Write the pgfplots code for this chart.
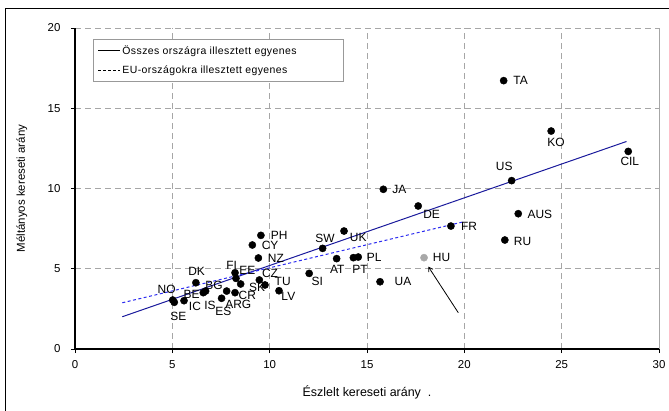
\documentclass[border=0pt]{standalone}
\usepackage{fontspec}
\setmainfont{Liberation Sans}
\newfontfamily\legfont[LetterSpace=4]{Liberation Sans}
\usepackage{pgfplots}
\usepackage{pgfplotstable}
\pgfplotsset{compat=1.18}
\usetikzlibrary{arrows.meta}

\definecolor{linenavy}{HTML}{1A1A9C}
\definecolor{lineblue}{HTML}{2B2BF0}
\definecolor{hugray}{HTML}{A8A8A8}

% countries (observed ratio, fair ratio)
\pgfplotstableread{
x y
5.02 3.05
5.10 2.91
5.60 3.01
6.21 4.13
6.59 3.51
6.71 3.61
7.53 3.16
7.79 3.61
8.22 3.51
8.22 4.75
8.27 4.40
8.51 4.05
9.11 6.48
9.55 7.08
9.42 5.67
9.47 4.30
9.76 3.99
10.48 3.63
12.03 4.71
12.72 6.27
13.82 7.35
13.44 5.63
14.30 5.69
14.55 5.73
15.67 4.19
15.84 9.95
17.63 8.91
19.31 7.66
22.02 16.72
22.43 10.49
22.77 8.43
22.08 6.79
24.46 13.58
28.42 12.31
}\pts

% label positions
\pgfplotstableread{
lx ly lab
4.71 3.74 NO
5.31 2.01 SE
6.25 4.82 DK
5.99 3.43 BE
7.14 3.99 BG
6.16 2.68 IC
6.93 2.74 IS
7.62 2.32 ES
8.39 2.78 ARG
8.85 3.31 CR
8.05 5.19 FI
8.85 4.92 EE
9.36 3.84 SK
10.02 4.71 CZ
10.67 4.19 TU
10.96 3.30 LV
10.32 5.67 NZ
10.02 6.44 CY
10.49 7.08 PH
12.45 4.19 SI
12.84 6.90 SW
14.55 6.94 UK
13.47 4.98 AT
14.64 4.98 PT
15.37 5.71 PL
16.85 4.19 UA
16.66 9.91 JA
18.32 8.41 DE
20.24 7.62 FR
18.83 5.69 HU
22.89 16.72 TA
22.05 11.36 US
23.88 8.41 AUS
22.99 6.69 RU
24.71 12.88 KO
28.50 11.67 CIL
}\labs

\begin{document}
\begin{tikzpicture}
\useasboundingbox (0,0) rectangle (669bp,411bp);
\draw[black, line width=1bp] (5bp,-5bp) -- (5bp,402bp) -- (675bp,402bp);
\begin{axis}[
  at={(75bp,62bp)}, anchor=south west,
  scale only axis,
  width=584bp, height=321bp,
  xmin=0, xmax=30, ymin=0, ymax=20,
  xtick={0,5,...,30}, ytick={0,5,...,20},
  axis x line*=bottom, axis y line*=left,
  axis line style={black, line width=1.1bp},
  tick align=outside, major tick length=4bp,
  tick style={black, line width=0.8bp},
  grid=major,
  grid style={gray!70, line width=0.8bp, dash pattern=on 6bp off 4bp},
  ticklabel style={font=\fontsize{11.5}{12}\selectfont},
  /pgf/number format/assume math mode=true,
  xticklabel style={yshift=-4bp},
  yticklabel style={xshift=-7bp},
  xlabel={Észlelt kereseti arány\ \ .},
  ylabel={Méltányos kereseti arány},
  label style={font=\fontsize{11.5}{12}\selectfont},
  xlabel style={at={(axis description cs:0.5,-0.134)}, anchor=center, font=\fontsize{12.5}{13}\selectfont},
  ylabel style={at={(axis description cs:-0.0908,0.5)}, anchor=center},
  clip=false,
  legend style={at={(0.03,0.965)}, anchor=north west, draw=gray!80,
    line width=0.6bp, inner xsep=5bp, inner ysep=4bp, row sep=6bp,
    font=\legfont\fontsize{10.5}{10.5}\selectfont, cells={anchor=west}},
  legend cell align=left,
  legend image code/.code={\draw[#1, line width=0.6bp] (0bp,0bp) -- (22bp,0bp);},
]
\addlegendimage{black}
\addlegendentry{\makebox[214bp][l]{Összes országra illesztett egyenes}}
\addlegendimage{black, dash pattern=on 2.5bp off 2.5bp}
\addlegendentry{\makebox[214bp][l]{EU-országokra illesztett egyenes}}

\addplot[forget plot, linenavy, line width=1bp] coordinates {(2.43,2.01) (28.33,12.93)};
\addplot[forget plot, lineblue, line width=1bp, dash pattern=on 3bp off 2.5bp] coordinates {(2.43,2.88) (19.94,7.92)};

\addplot[forget plot, only marks, mark=*, mark size=3.6bp, black] table[x=x,y=y] {\pts};
\addplot[forget plot, only marks, mark=*, mark size=3.6bp, hugray, draw=hugray] coordinates {(17.93,5.69)};

\addplot[forget plot, black, line width=0.8bp, -{Straight Barb[length=4bp,width=5bp]}] coordinates {(19.69,2.26) (18.15,5.13)};

\addplot[forget plot, only marks, mark=none, nodes near coords, point meta=explicit symbolic,
  every node near coord/.style={anchor=center, inner sep=0pt, font=\fontsize{12}{12}\selectfont}]
  table[x=lx, y=ly, meta=lab] {\labs};

\draw[gray!70, line width=1bp] (rel axis cs:1,0) -- (rel axis cs:1,1);
\end{axis}
\end{tikzpicture}
\end{document}
